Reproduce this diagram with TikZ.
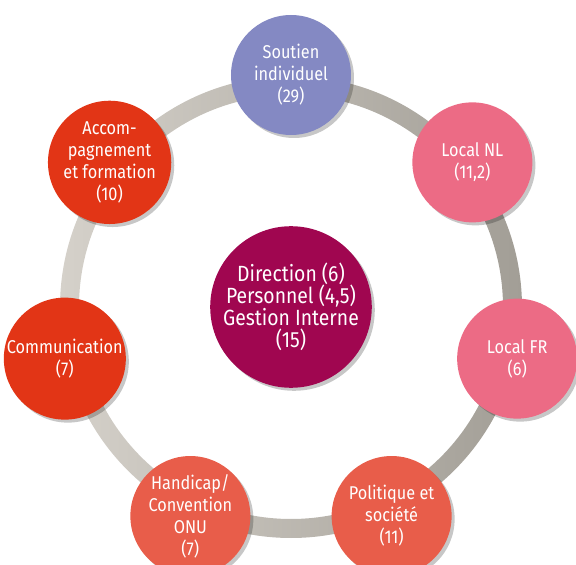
\documentclass[tikz,border=0pt]{standalone}
\usepackage{fontspec}
\setmainfont{Fira Sans}[FakeStretch=0.88]
\definecolor{lavande}{HTML}{8489C3}
\definecolor{rose}{HTML}{EC6B85}
\definecolor{corail}{HTML}{E85D4A}
\definecolor{rouge}{HTML}{E23516}
\definecolor{magenta}{HTML}{A00650}
\definecolor{anneauclair}{HTML}{D5D1CA}
\definecolor{anneaufonce}{HTML}{A29E96}
\usetikzlibrary{shadows}
\tikzset{
  rond/.style={
    circle, fill=#1, draw=none, minimum size=120pt, inner sep=0pt,
    text=white, align=center, font=\fontsize{18.5}{22}\selectfont,
    drop shadow={shadow xshift=3pt, shadow yshift=-3pt, opacity=0.22, fill=black}
  },
  rond/.default=corail,
}

\begin{document}
\begin{tikzpicture}[x=1pt, y=1pt]
    \useasboundingbox (-291,-258) rectangle (285,307);
    \clip (-291,-258) rectangle (285,307);

    % anneau gris
    \shade[left color=anneauclair, right color=anneaufonce, even odd rule]
      (0,0) circle (231) circle (212);

    \node[rond=magenta, minimum size=152pt, font=\fontsize{22}{22}\selectfont] (centre) at (0,0)
      {Direction (6)\\Personnel (4,5)\\Gestion Interne\\(15)};

    \node[rond=lavande] (soutien) at (90:232)
      {Soutien\\individuel\\(29)};
    \node[rond=rose] (localnl) at (38.57:232)
      {Local NL\\(11,2)};
    \node[rond=rose] (localfr) at (-12.86:232)
      {Local FR\\(6)};
    \node[rond=corail] (politique) at (-64.29:232)
      {Politique et\\soci\'et\'e\\(11)};
    \node[rond=corail] (handicap) at (-115.71:232)
      {Handicap/\\Convention\\ONU\\(7)};
    \node[rond=rouge] (comm) at (-167.14:232)
      {Communication\\(7)};
    \node[rond=rouge] (accomp) at (141.43:232)
      {Accom-\\pagnement\\et formation\\(10)};
  \end{tikzpicture}
\end{document}
